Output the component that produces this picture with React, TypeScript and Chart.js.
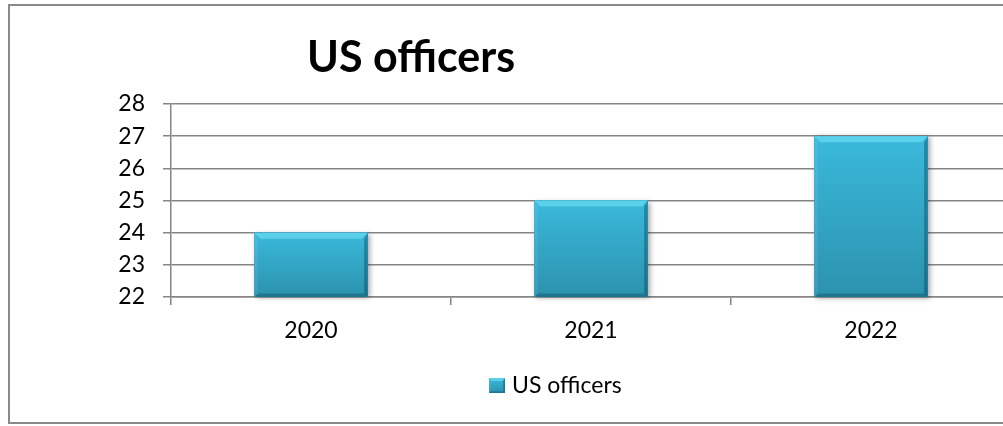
import React, { useEffect, useRef } from "react";
import { Chart, registerables } from "chart.js";

Chart.register(...registerables);

const categories = ["2020", "2021", "2022"];
const officers = [24, 25, 27];
const seriesName = "US officers";
const chartTitle = "US officers";
const yMin = 22;
const yMax = 28;
const yStep = 1;

const FONT = "Lato, 'Open Sans', sans-serif";
const BAR_COLOR = "#33A9CA";
const GRID_COLOR = "#858585";

function drawBevel(ctx: CanvasRenderingContext2D, left: number, top: number, right: number, bottom: number, b: number) {
  const g = ctx.createLinearGradient(0, top, 0, bottom);
  g.addColorStop(0, "#3AB9DB");
  g.addColorStop(1, "#2C92AE");
  ctx.fillStyle = g;
  ctx.fillRect(left, top, right - left, bottom - top);
  // top bevel
  ctx.beginPath();
  ctx.moveTo(left, top);
  ctx.lineTo(right, top);
  ctx.lineTo(right - b, top + b);
  ctx.lineTo(left + b, top + b);
  ctx.closePath();
  ctx.fillStyle = "rgba(120,230,250,0.55)";
  ctx.fill();
  // left bevel
  ctx.beginPath();
  ctx.moveTo(left, top);
  ctx.lineTo(left + b * 0.6, top + b);
  ctx.lineTo(left + b * 0.6, bottom - b * 0.6);
  ctx.lineTo(left, bottom);
  ctx.closePath();
  ctx.fillStyle = "rgba(255,255,255,0.08)";
  ctx.fill();
  // right bevel
  const rb = b * 0.6;
  ctx.beginPath();
  ctx.moveTo(right, top);
  ctx.lineTo(right, bottom);
  ctx.lineTo(right - rb, bottom - rb);
  ctx.lineTo(right - rb, top + b);
  ctx.closePath();
  ctx.fillStyle = "rgba(0,50,70,0.35)";
  ctx.fill();
  // bottom bevel
  ctx.beginPath();
  ctx.moveTo(left, bottom);
  ctx.lineTo(right, bottom);
  ctx.lineTo(right - rb, bottom - rb);
  ctx.lineTo(left + rb, bottom - rb);
  ctx.closePath();
  ctx.fillStyle = "rgba(0,50,70,0.3)";
  ctx.fill();
}

const decorPlugin = {
  id: "decor",
  beforeDraw(chart: any) {
    const ctx = chart.ctx as CanvasRenderingContext2D;
    ctx.save();
    ctx.fillStyle = "#ffffff";
    ctx.fillRect(0, 0, chart.width, chart.height);
    ctx.strokeStyle = "#8a8a8a";
    ctx.lineWidth = 2;
    ctx.strokeRect(9, 5, chart.width + 20, 418);
    ctx.restore();
  },
  afterDatasetsDraw(chart: any) {
    const ctx = chart.ctx as CanvasRenderingContext2D;
    const area = chart.chartArea;
    const meta = chart.getDatasetMeta(0);
    ctx.save();
    meta.data.forEach((el: any) => {
      const p = el.getProps(["x", "y", "base", "width"], true);
      const left = p.x - p.width / 2;
      const right = p.x + p.width / 2;
      const top = Math.max(Math.min(p.y, p.base), area.top);
      const bottom = Math.min(Math.max(p.y, p.base), area.bottom);
      ctx.save();
      ctx.shadowColor = "rgba(0,0,0,0.35)";
      ctx.shadowBlur = 5;
      ctx.shadowOffsetX = 2;
      ctx.shadowOffsetY = 1;
      ctx.fillStyle = BAR_COLOR;
      ctx.fillRect(left, top, right - left, bottom - top);
      ctx.restore();
      drawBevel(ctx, left, top, right, bottom, 6);
    });
    ctx.restore();
  },
  afterDraw(chart: any) {
    const ctx = chart.ctx as CanvasRenderingContext2D;
    ctx.save();
    ctx.fillStyle = "#000000";
    ctx.font = `bold 43px ${FONT}`;
    ctx.textAlign = "left";
    ctx.textBaseline = "alphabetic";
    ctx.fillText(chartTitle, 307, 72);
    const bx = 489, by = 378, bs = 16;
    ctx.fillStyle = BAR_COLOR;
    ctx.fillRect(bx, by, bs, bs - 1);
    drawBevel(ctx, bx, by, bx + bs, by + bs - 1, 3);
    ctx.fillStyle = "#000000";
    ctx.font = `23px ${FONT}`;
    ctx.textBaseline = "middle";
    ctx.fillText(seriesName, 512, 386);
    ctx.restore();
  },
};

export default function App() {
  const ref = useRef<HTMLCanvasElement | null>(null);
  useEffect(() => {
    if (!ref.current) return;
    const chart = new Chart(ref.current, {
      type: "bar",
      data: {
        labels: categories,
        datasets: [
          {
            label: seriesName,
            data: officers,
            backgroundColor: BAR_COLOR,
            borderWidth: 0,
            categoryPercentage: 1,
            barPercentage: 0.405,
          },
        ],
      },
      options: {
        animation: false,
        responsive: false,
        maintainAspectRatio: false,
        devicePixelRatio: 1,
        layout: { padding: { left: 0, top: 104, right: 19, bottom: 79 } },
        plugins: {
          legend: { display: false },
          title: { display: false },
          tooltip: { enabled: false },
        },
        scales: {
          x: {
            grid: {
              display: true,
              drawOnChartArea: false,
              drawTicks: true,
              tickLength: 8,
              color: GRID_COLOR,
              lineWidth: 1.5,
              offset: true,
            },
            border: { display: true, color: GRID_COLOR, width: 1.5 },
            ticks: {
              color: "#000000",
              font: { family: FONT, size: 23 },
              padding: 12,
              maxRotation: 0,
            },
            afterFit(scale: any) {
              scale.height = 50;
            },
          },
          y: {
            min: yMin,
            max: yMax,
            grid: {
              color: GRID_COLOR,
              lineWidth: 1.5,
              drawTicks: true,
              tickLength: 8,
            },
            border: { display: true, color: GRID_COLOR, width: 1.5 },
            ticks: {
              stepSize: yStep,
              color: "#000000",
              font: { family: FONT, size: 23 },
              padding: 18,
            },
            afterFit(scale: any) {
              scale.width = 171;
            },
          },
        },
      },
      plugins: [decorPlugin],
    });
    return () => chart.destroy();
  }, []);

  return (
    <div
      style={{
        position: "absolute",
        left: 0,
        top: 0,
        width: 1003,
        height: 426,
        overflow: "hidden",
        background: "#fff",
      }}
    >
      <canvas ref={ref} width={1030} height={426} style={{ display: "block", width: 1030, height: 426 }} />
    </div>
  );
}
